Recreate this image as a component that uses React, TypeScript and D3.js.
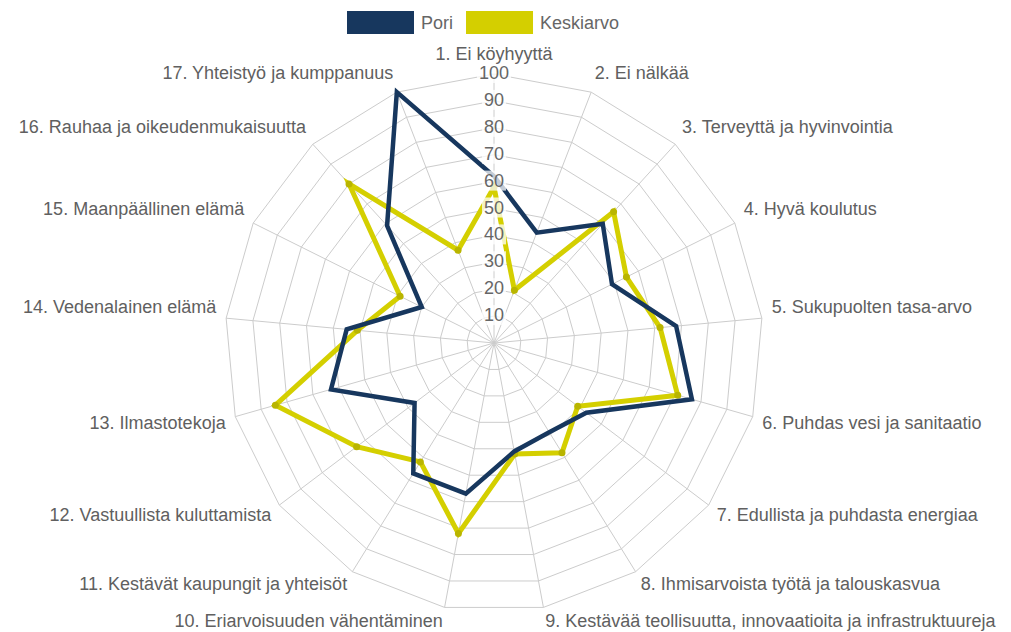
import React, { useEffect, useRef } from "react";
import * as d3 from "d3";

// SDG goal names (axes, clockwise from the top)
const goals = [
  "1. Ei köyhyyttä",
  "2. Ei nälkää",
  "3. Terveyttä ja hyvinvointia",
  "4. Hyvä koulutus",
  "5. Sukupuolten tasa-arvo",
  "6. Puhdas vesi ja sanitaatio",
  "7. Edullista ja puhdasta energiaa",
  "8. Ihmisarvoista työtä ja talouskasvua",
  "9. Kestävää teollisuutta, innovaatioita ja infrastruktuureja",
  "10. Eriarvoisuuden vähentäminen",
  "11. Kestävät kaupungit ja yhteisöt",
  "12. Vastuullista kuluttamista",
  "13. Ilmastotekoja",
  "14. Vedenalainen elämä",
  "15. Maanpäällinen elämä",
  "16. Rauhaa ja oikeudenmukaisuutta",
  "17. Yhteistyö ja kumppanuus",
];

const pori = [62, 44, 60, 49, 68, 76.5, 43, 39, 41, 57, 57, 37, 63, 55, 30, 59, 100];
const keskiarvo = [58, 21, 66, 55, 62, 71, 39, 48, 42, 72, 52, 64, 84.5, 51, 39, 80, 37];

const ticks = [10, 20, 30, 40, 50, 60, 70, 80, 90, 100];

const seriesNames = ["Pori", "Keskiarvo"];
const colors = ["#17375e", "#d4cf00"];

const W = 1011;
const H = 632;
const cx = 494;
const cy = 343;
const R = 269;
const FONT = "'Liberation Sans', Arial, Helvetica, sans-serif";

const App: React.FC = () => {
  const svgRef = useRef<SVGSVGElement | null>(null);

  useEffect(() => {
    if (!svgRef.current) return;
    const root = d3.select(svgRef.current);
    root.selectAll("*").remove();

    const n = goals.length;
    const step = (2 * Math.PI) / n;
    const r = d3.scaleLinear().domain([0, 100]).range([0, R]);

    const g = root.append("g").attr("transform", `translate(${cx},${cy})`);

    // grid rings
    const ring = d3
      .lineRadial<number>()
      .angle((_, i) => i * step)
      .radius((d) => r(d))
      .curve(d3.curveLinearClosed);

    g.append("g")
      .selectAll("path")
      .data(ticks)
      .enter()
      .append("path")
      .attr("d", (t) => ring(goals.map(() => t)))
      .attr("fill", "none")
      .attr("stroke", "#cccccc")
      .attr("stroke-width", 1);

    // angle lines
    g.append("g")
      .selectAll("line")
      .data(goals)
      .enter()
      .append("line")
      .attr("x1", 0)
      .attr("y1", 0)
      .attr("x2", (_, i) => r(100) * Math.sin(i * step))
      .attr("y2", (_, i) => -r(100) * Math.cos(i * step))
      .attr("stroke", "#cccccc")
      .attr("stroke-width", 1);

    // series lines (average first, Pori on top)
    const line = d3
      .lineRadial<number>()
      .angle((_, i) => i * step)
      .radius((d) => r(d))
      .curve(d3.curveLinearClosed);

    g.append("path")
      .attr("d", line(keskiarvo))
      .attr("fill", "none")
      .attr("stroke", colors[1])
      .attr("stroke-width", 5)
      .attr("stroke-linejoin", "miter");

    g.append("g")
      .selectAll("circle")
      .data(keskiarvo)
      .enter()
      .append("circle")
      .attr("cx", (d, i) => r(d) * Math.sin(i * step))
      .attr("cy", (d, i) => -r(d) * Math.cos(i * step))
      .attr("r", 3.5)
      .attr("fill", "#b9b500");

    g.append("path")
      .attr("d", line(pori))
      .attr("fill", "none")
      .attr("stroke", colors[0])
      .attr("stroke-width", 4.5)
      .attr("stroke-linejoin", "miter");

    // tick labels with backdrop
    const tl = g.append("g");
    ticks.forEach((t) => {
      const txt = String(t);
      const w = txt.length * 10;
      tl.append("rect")
        .attr("x", -w / 2 - 2)
        .attr("y", -r(t) - 11)
        .attr("width", w + 4)
        .attr("height", 20)
        .attr("fill", "rgba(255,255,255,0.75)");
      tl.append("text")
        .attr("x", 0)
        .attr("y", -r(t) - 1)
        .attr("text-anchor", "middle")
        .attr("dominant-baseline", "central")
        .attr("font-family", FONT)
        .attr("font-size", 18)
        .attr("fill", "#666")
        .text(txt);
    });

    // point labels
    const lr = R + 10;
    g.append("g")
      .selectAll("text")
      .data(goals)
      .enter()
      .append("text")
      .attr("x", (_, i) => lr * Math.sin(i * step))
      .attr("y", (_, i) => {
        const c = Math.cos(i * step);
        return -lr * c + (c >= 0 ? -10 : 4);
      })
      .attr("text-anchor", (_, i) => {
        const s = Math.sin(i * step);
        return s > 0.05 ? "start" : s < -0.05 ? "end" : "middle";
      })
      .attr("dominant-baseline", "central")
      .attr("font-family", FONT)
      .attr("font-size", 18)
      .attr("fill", "#606060")
      .text((d) => d);

    // legend
    const legend = root.append("g").attr("transform", "translate(347,11)");
    let x = 0;
    seriesNames.forEach((name, i) => {
      legend
        .append("rect")
        .attr("x", x)
        .attr("y", 0)
        .attr("width", 67)
        .attr("height", 23)
        .attr("fill", colors[i]);
      const t = legend
        .append("text")
        .attr("x", x + 74)
        .attr("y", 12)
        .attr("dominant-baseline", "central")
        .attr("font-family", FONT)
        .attr("font-size", 18)
        .attr("fill", "#666")
        .text(name);
      const tw = (t.node() as SVGTextElement).getComputedTextLength();
      x += 74 + tw + 13;
    });
  }, []);

  return (
    <svg
      ref={svgRef}
      width={W}
      height={H}
      style={{ position: "absolute", left: 0, top: 0, background: "#fff" }}
    />
  );
};

export default App;
